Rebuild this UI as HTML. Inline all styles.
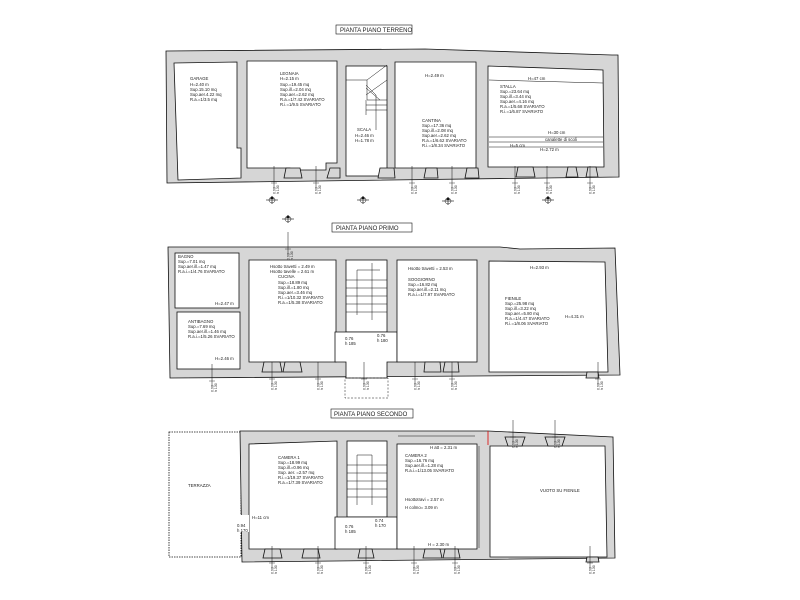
<!DOCTYPE html>
<html><head><meta charset="utf-8"><style>
html,body{margin:0;padding:0;background:#fff;}
svg{display:block;}
text{font-family:"Liberation Sans",sans-serif;fill:#222;}
.t{font-size:4.3px;}
.s{font-size:3.5px;}
.h{font-size:6px;}
</style></head><body>
<svg width="800" height="600" viewBox="0 0 800 600" xmlns="http://www.w3.org/2000/svg">
<defs>
<g id="sec"><circle cx="0" cy="0" r="3" fill="none" stroke="#111" stroke-width="0.5"/><line x1="-6" y1="0" x2="6" y2="0" stroke="#111" stroke-width="0.6"/><line x1="0" y1="-4" x2="0" y2="4" stroke="#111" stroke-width="0.6"/><polygon points="-2,-1 2,-1 0,-4" fill="#111"/></g>
<g id="dim"><line x1="0" y1="-14" x2="0" y2="8" stroke="#111" stroke-width="0.5"/><line x1="-3" y1="3" x2="3" y2="3" stroke="#111" stroke-width="0.4"/><text class="s" transform="translate(1.5,14) rotate(-90)">0.90</text><text class="s" transform="translate(5,14) rotate(-90)">h 130</text></g>
</defs>
<g stroke="#111" stroke-width="0.8">
<!-- ===== GROUND FLOOR ===== -->
<polygon points="166,51 425,49 612,55 618,55 619,177 167,183" fill="#d6d6d6"/>
<polygon points="174,63 237,62 237,148 241,148 241,178 178,180" fill="#fff"/>
<polygon points="247,61 337,61 337,163 326,163 326,170 290,170 290,168 247,168" fill="#fff"/>
<rect x="346" y="66" width="41" height="110" fill="#fff"/>
<polygon points="395,62 476,62 476,168 395,168" fill="#fff"/>
<polygon points="488,66 603,70 604,167 488,167" fill="#fff"/>
<g fill="#d6d6d6">
<polygon points="286,168 300,168 302,178 284,178"/>
<polygon points="330,168 340,168 340,178 327,178"/>
<polygon points="380,168 394,168 395,178 378,178"/>
<polygon points="426,168 437,168 438,178 424,178"/>
<polygon points="467,168 478,168 479,178 465,178"/>
<polygon points="518,167 533,167 535,177 516,177"/>
<polygon points="568,167 576,167 578,177 566,177"/>
<polygon points="588,167 596,167 598,177 586,177"/>
</g>
<g fill="none" stroke-width="0.5">
<polyline points="346,80 367,80 367,100 387,100"/>
<line x1="367" y1="80" x2="387" y2="65"/>
<line x1="366" y1="85" x2="376" y2="95"/>
<line x1="366" y1="88" x2="380" y2="100"/>
<line x1="366" y1="95" x2="387" y2="80"/>
<line x1="366" y1="105" x2="387" y2="105"/>
<line x1="366" y1="110" x2="387" y2="110"/>
<line x1="366" y1="100" x2="366" y2="115"/>
<line x1="376" y1="95" x2="376" y2="130"/>
<line x1="489" y1="80" x2="603" y2="83"/>
<line x1="489" y1="137" x2="603" y2="137"/>
<line x1="489" y1="142" x2="603" y2="142"/>
<line x1="489" y1="147" x2="603" y2="147"/>
</g>
</g>
<use href="#dim" x="274" y="180"/><use href="#dim" x="316" y="180"/><use href="#dim" x="412" y="180"/><use href="#dim" x="452" y="180"/><use href="#dim" x="515" y="180"/><use href="#dim" x="547" y="180"/><use href="#dim" x="590" y="180"/>
<use href="#sec" x="272" y="200"/><use href="#sec" x="363" y="200"/><use href="#sec" x="448" y="201"/><use href="#sec" x="548" y="200"/>
<rect x="336" y="25" width="76" height="9" fill="none" stroke="#111" stroke-width="0.6"/>
<text x="340" y="32" class="h">PIANTA PIANO TERRENO</text>
<text class="t" x="190" y="80">GARAGE</text>
<text class="t" x="190" y="86">H=2.40 m</text>
<text class="t" x="190" y="91">Sup.15.10 mq</text>
<text class="t" x="190" y="96">Sup.aer.4.22 mq</text>
<text class="t" x="190" y="101">R.a.=1/3.5 mq</text>
<text class="t" x="280" y="75">LEGNAIA</text>
<text class="t" x="280" y="80">H=2.15 m</text>
<text class="t" x="280" y="86">Sup.=19.45 mq</text>
<text class="t" x="280" y="91">Sup.ill.=2.04 mq</text>
<text class="t" x="280" y="96">Sup.aer.=2.62 mq</text>
<text class="t" x="280" y="101">R.a.=1/7.42 SVARIATO</text>
<text class="t" x="280" y="106">R.i.=1/9.5 SVARIATO</text>
<text class="t" x="357" y="131">SCALA</text>
<text class="t" x="355" y="137">H=2.46 m</text>
<text class="t" x="355" y="142">H=1.78 m</text>
<text class="t" x="425" y="77">H=2.49 m</text>
<text class="t" x="422" y="122">CANTINA</text>
<text class="t" x="422" y="127">Sup.=17.36 mq</text>
<text class="t" x="422" y="132">Sup.ill.=2.08 mq</text>
<text class="t" x="422" y="137">Sup.aer.=2.62 mq</text>
<text class="t" x="422" y="142">R.a.=1/6.62 SVARIATO</text>
<text class="t" x="422" y="147">R.i.=1/8.34 SVARIATO</text>
<text class="t" x="528" y="80">H=47 cm</text>
<text class="t" x="500" y="88">STALLA</text>
<text class="t" x="500" y="93">Sup.=23.64 mq</text>
<text class="t" x="500" y="98">Sup.ill.=3.44 mq</text>
<text class="t" x="500" y="103">Sup.aer.=4.16 mq</text>
<text class="t" x="500" y="108">R.a.=1/5.68 SVARIATO</text>
<text class="t" x="500" y="113">R.i.=1/6.87 SVARIATO</text>
<text class="t" x="548" y="134">H=30 cm</text>
<text class="t" x="545" y="141">canalette di scoli</text>
<text class="t" x="510" y="147">H=5 cm</text>
<text class="t" x="540" y="151">H=2.72 m</text>

<!-- ===== FIRST FLOOR ===== -->
<g stroke="#111" stroke-width="0.8">
<polygon points="168,247 500,247 520,249 615,248 620,375 170,378" fill="#d6d6d6"/>
<rect x="175" y="253" width="64" height="55" fill="#fff"/>
<rect x="177" y="312" width="63" height="57" fill="#fff"/>
<polygon points="249,260 336,260 336,362 249,362" fill="#fff"/>
<rect x="346" y="260" width="41" height="72" fill="#fff"/>
<polygon points="335,332 397,332 397,362 387,362 387,378 346,378 346,362 335,362" fill="#fff"/>
<rect x="397" y="260" width="80" height="102" fill="#fff"/>
<polygon points="489,261 605,262 608,372 489,372" fill="#fff"/>
<g fill="#d6d6d6">
<polygon points="264,362 280,362 282,372 262,372"/>
<polygon points="285,362 300,362 302,372 283,372"/>
<polygon points="425,362 440,362 441,372 424,372"/>
<polygon points="445,362 458,362 459,372 443,372"/>
<polygon points="587,372 598,372 599,378 586,378"/>
</g>
<g fill="none" stroke-width="0.5">
<line x1="346" y1="280" x2="387" y2="280"/>
<line x1="346" y1="288" x2="387" y2="288"/>
<line x1="346" y1="296" x2="387" y2="296"/>
<line x1="346" y1="304" x2="387" y2="304"/>
<line x1="346" y1="312" x2="387" y2="312"/>
<line x1="357" y1="270" x2="357" y2="315"/>
<line x1="372" y1="263" x2="372" y2="320"/>
<line x1="357" y1="270" x2="380" y2="270"/>
<rect x="345" y="378" width="43" height="20" stroke-dasharray="2,1.5"/>
</g>
</g>
<use href="#dim" x="212" y="378"/><use href="#dim" x="272" y="376"/><use href="#dim" x="318" y="376"/><use href="#dim" x="364" y="376"/><use href="#dim" x="415" y="376"/><use href="#dim" x="452" y="376"/><use href="#dim" x="598" y="376"/>
<use href="#sec" x="288" y="219"/><use href="#dim" x="288" y="246"/>
<rect x="332" y="223" width="80" height="9" fill="none" stroke="#111" stroke-width="0.6"/>
<text x="336" y="230" class="h">PIANTA PIANO PRIMO</text>
<text class="t" x="178" y="258">BAGNO</text>
<text class="t" x="178" y="263">Sup.=7.01 mq</text>
<text class="t" x="178" y="268">Sup.aer.ill.=1.47 mq</text>
<text class="t" x="178" y="273">R.a.i.=1/4.76 SVARIATO</text>
<text class="t" x="215" y="305">H=2.47 m</text>
<text class="t" x="188" y="323">ANTIBAGNO</text>
<text class="t" x="188" y="328">Sup.=7.69 mq</text>
<text class="t" x="188" y="333">Sup.aer.ill.=1.46 mq</text>
<text class="t" x="188" y="338">R.a.i.=1/5.26 SVARIATO</text>
<text class="t" x="215" y="360">H=2.46 m</text>
<text class="t" x="270" y="268">Hsotto travetti = 2.49 m</text>
<text class="t" x="270" y="273">Hsotto tavelle = 2.61 m</text>
<text class="t" x="278" y="278">CUCINA</text>
<text class="t" x="278" y="284">Sup.=18.89 mq</text>
<text class="t" x="278" y="289">Sup.ill.=1.80 mq</text>
<text class="t" x="278" y="294">Sup.aer.=3.46 mq</text>
<text class="t" x="278" y="299">R.i.=1/10.32 SVARIATO</text>
<text class="t" x="278" y="304">R.a.=1/5.38 SVARIATO</text>
<text class="t" x="408" y="270">Hsotto travetti = 2.53 m</text>
<text class="t" x="408" y="281">SOGGIORNO</text>
<text class="t" x="408" y="286">Sup.=16.82 mq</text>
<text class="t" x="408" y="291">Sup.aer.ill.=2.11 mq</text>
<text class="t" x="408" y="296">R.a.i.=1/7.97 SVARIATO</text>
<text class="t" x="530" y="269">H=2.93 m</text>
<text class="t" x="505" y="300">FIENILE</text>
<text class="t" x="505" y="305">Sup.=25.98 mq</text>
<text class="t" x="505" y="310">Sup.ill.=3.22 mq</text>
<text class="t" x="505" y="315">Sup.aer.=5.80 mq</text>
<text class="t" x="505" y="320">R.a.=1/4.47 SVARIATO</text>
<text class="t" x="505" y="325">R.i.=1/8.06 SVARIATO</text>
<text class="t" x="565" y="318">H=4.31 m</text>

<!-- ===== SECOND FLOOR ===== -->
<g stroke="#111" stroke-width="0.8">
<rect x="169" y="432" width="72" height="125" fill="#fff" stroke-dasharray="1.5,1"/>
<polygon points="240,431 488,431 613,437 615,558 242,562" fill="#d6d6d6"/>
<polygon points="249,444 337,441 337,549 249,549" fill="#fff"/>
<rect x="347" y="441" width="40" height="76" fill="#fff"/>
<polygon points="335,517 397,517 397,549 335,549" fill="#fff"/>
<rect x="397" y="444" width="80" height="105" fill="#fff"/>
<polygon points="490,446 605,446 607,557 490,557" fill="#fff"/>
<rect x="240" y="515" width="9" height="17" fill="#fff" stroke="none"/>
<g fill="#d6d6d6">
<polygon points="265,549 280,549 282,558 263,558"/>
<polygon points="304,549 318,549 320,558 302,558"/>
<polygon points="360,549 372,549 374,558 358,558"/>
<polygon points="425,549 440,549 442,558 423,558"/>
<polygon points="445,549 458,549 460,558 443,558"/>
<polygon points="505,437 525,437 522,446 508,446"/>
<polygon points="545,437 565,437 562,446 548,446"/>
<polygon points="587,557 598,557 599,562 586,562"/>
</g>
<g fill="none" stroke-width="0.5">
<line x1="347" y1="465" x2="387" y2="465"/>
<line x1="347" y1="473" x2="387" y2="473"/>
<line x1="347" y1="481" x2="387" y2="481"/>
<line x1="347" y1="489" x2="387" y2="489"/>
<line x1="347" y1="497" x2="387" y2="497"/>
<polyline points="357,505 357,455 372,455 372,505"/>
<line x1="398" y1="436" x2="475" y2="436"/>
<line x1="479" y1="446" x2="479" y2="548"/>
</g>
<line x1="488" y1="431" x2="488" y2="445" stroke="#d00" stroke-width="0.8"/>
</g>
<use href="#dim" x="272" y="560"/><use href="#dim" x="318" y="560"/><use href="#dim" x="366" y="560"/><use href="#dim" x="414" y="560"/><use href="#dim" x="455" y="560"/><use href="#dim" x="590" y="560"/>
<use href="#dim" x="513" y="434"/><use href="#dim" x="555" y="434"/>
<rect x="331" y="409" width="82" height="9" fill="none" stroke="#111" stroke-width="0.6"/>
<text x="334" y="416" class="h">PIANTA PIANO SECONDO</text>
<text class="t" x="188" y="487">TERRAZZA</text>
<text class="t" x="278" y="459">CAMERA 1</text>
<text class="t" x="278" y="464">Sup.=18.99 mq</text>
<text class="t" x="278" y="469">Sup.ill.=0.96 mq</text>
<text class="t" x="278" y="474">Sup. aer. =2.57 mq</text>
<text class="t" x="278" y="479">R.i.=1/19.37 SVARIATO</text>
<text class="t" x="278" y="484">R.a.=1/7.39 SVARIATO</text>
<text class="t" x="252" y="519">H=11 cm</text>
<text class="t" x="405" y="457">CAMERA 2</text>
<text class="t" x="405" y="462">Sup.=16.76 mq</text>
<text class="t" x="405" y="467">Sup.aer.ill.=1.28 mq</text>
<text class="t" x="405" y="472">R.a.i.=1/13.05 SVARIATO</text>
<text class="t" x="405" y="501">Hsottotravi = 2.57 m</text>
<text class="t" x="405" y="509">H colmo= 3.09 m</text>
<text class="t" x="430" y="449">H att = 2.31 m</text>
<text class="t" x="428" y="546">H = 2.30 m</text>
<text class="t" x="540" y="492">VUOTO SU FIENILE</text>
<text class="t" x="345" y="528">0.76</text>
<text class="t" x="345" y="533">h 185</text>
<text class="t" x="375" y="522">0.74</text>
<text class="t" x="375" y="527">h 170</text>
<text class="t" x="237" y="527">0.94</text>
<text class="t" x="237" y="532">h 170</text>
<text class="t" x="345" y="340">0.76</text>
<text class="t" x="345" y="345">h 185</text>
<text class="t" x="377" y="337">0.76</text>
<text class="t" x="377" y="342">h 180</text>
</svg>
</body></html>
